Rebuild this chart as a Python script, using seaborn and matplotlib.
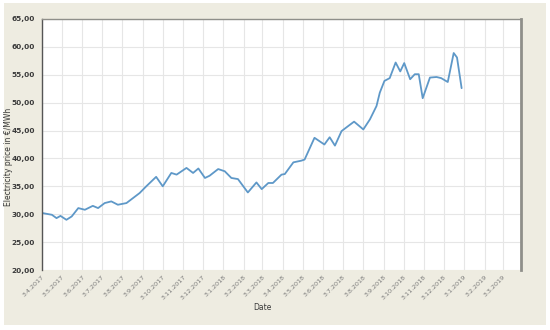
"""
plot.py
-------
Electricity price (EUR/MWh) over time, April 2017 - March 2019.
"""

import matplotlib
matplotlib.use("Agg")
import matplotlib.pyplot as plt
import matplotlib.patches as mpatches
import matplotlib.ticker as mticker
import pandas as pd
import seaborn as sns

# ── Data ────────────────────────────────────────────────────────────────────
dates = [
    "2017-04-04", "2017-04-18", "2017-04-25", "2017-05-01", "2017-05-10",
    "2017-05-18", "2017-05-28", "2017-06-07", "2017-06-19", "2017-06-27",
    "2017-07-07", "2017-07-17", "2017-07-27", "2017-08-09", "2017-08-19",
    "2017-08-29", "2017-09-08", "2017-09-23", "2017-10-03", "2017-10-16",
    "2017-10-24", "2017-11-08", "2017-11-18", "2017-11-26", "2017-12-06",
    "2017-12-13", "2017-12-26", "2018-01-05", "2018-01-15", "2018-01-25",
    "2018-02-09", "2018-02-22", "2018-03-02", "2018-03-12", "2018-03-19",
    "2018-04-01", "2018-04-06", "2018-04-19", "2018-05-01", "2018-05-06",
    "2018-05-21", "2018-06-05", "2018-06-13", "2018-06-21", "2018-07-01",
    "2018-07-11", "2018-07-20", "2018-08-03", "2018-08-13", "2018-08-23",
    "2018-08-28", "2018-09-04", "2018-09-12", "2018-09-21", "2018-09-28",
    "2018-10-04", "2018-10-13", "2018-10-20", "2018-10-26", "2018-11-01",
    "2018-11-12", "2018-11-22", "2018-11-29", "2018-12-09", "2018-12-18",
    "2018-12-23", "2018-12-30",
]
prices = [
    30.2, 29.9, 29.3, 29.7, 29.0,
    29.6, 31.1, 30.8, 31.5, 31.1,
    32.0, 32.3, 31.7, 32.0, 32.9,
    33.8, 35.0, 36.7, 35.0, 37.4,
    37.1, 38.3, 37.4, 38.2, 36.5,
    36.9, 38.1, 37.7, 36.5, 36.3,
    33.9, 35.7, 34.5, 35.6, 35.6,
    37.1, 37.2, 39.3, 39.6, 39.8,
    43.7, 42.5, 43.8, 42.3, 44.9,
    45.8, 46.6, 45.2, 47.0, 49.4,
    51.8, 53.9, 54.4, 57.2, 55.6,
    57.1, 54.2, 55.1, 55.1, 50.8,
    54.5, 54.6, 54.4, 53.7, 58.9,
    58.1, 52.6,
]
tick_dates = pd.date_range("2017-04-03", periods=24, freq=pd.DateOffset(months=1))
tick_labels = [f"{d.day}.{d.month}.{d.year}" for d in tick_dates]
y_ticks = [20, 25, 30, 35, 40, 45, 50, 55, 60, 65]

# ── Colours ──────────────────────────────────────────────────────────────────
PALETTE = {
    'line':   '#5e98c8',
    'panel':  '#eeece1',
    'grid':   '#e6e6e6',
    'frame':  '#8f8f8a',
    'text':   '#3a3a3a',
    'tick':   '#7a7a7a',
}

df = pd.DataFrame({'date': pd.to_datetime(dates), 'price': prices})

sns.set_style("whitegrid")
fig = plt.figure(figsize=(5.5, 3.3), dpi=100)
fig.patch.set_facecolor('white')
fig.patches.append(mpatches.Rectangle((4 / 550, 5 / 330), 542 / 550, 322 / 330,
                                      transform=fig.transFigure,
                                      facecolor=PALETTE['panel'],
                                      edgecolor='none', zorder=-10))

ax = fig.add_axes([42 / 550, 60 / 330, 479 / 550, 251 / 330])
sns.lineplot(data=df, x='date', y='price', ax=ax, color=PALETTE['line'],
             linewidth=1.3)

ax.set_xlim(pd.Timestamp("2017-04-03"), pd.Timestamp("2019-03-30"))
ax.set_ylim(20, 65)
ax.set_xticks(tick_dates)
ax.set_xticklabels(tick_labels, rotation=45, ha='right', rotation_mode='anchor',
                   fontsize=4.6, color=PALETTE['tick'])
ax.set_yticks(y_ticks)
ax.yaxis.set_major_formatter(mticker.FuncFormatter(lambda v, _: f"{v:.2f}".replace('.', ',')))
ax.tick_params(axis='x', length=0, pad=3)
ax.tick_params(axis='y', length=0, pad=5, labelsize=5.3, labelcolor=PALETTE['text'])
for lbl in ax.get_yticklabels():
    lbl.set_fontweight('bold')

ax.grid(True, color=PALETTE['grid'], linewidth=0.8)
ax.set_facecolor('white')
ax.spines['bottom'].set_visible(False)
ax.spines['left'].set_color('#555555')
ax.spines['left'].set_linewidth(1.0)
ax.spines['top'].set_color(PALETTE['frame'])
ax.spines['top'].set_linewidth(1.0)
ax.spines['right'].set_color(PALETTE['frame'])
ax.spines['right'].set_linewidth(2.0)

ax.set_xlabel('')
ax.set_ylabel('Electricity price in €/MWh', fontsize=5.5, color=PALETTE['text'])
ax.yaxis.set_label_coords(-29 / 479, 0.45)
fig.text(262 / 550, 1 - 308 / 330, 'Date', fontsize=5.5, color=PALETTE['text'],
         ha='center', va='center')

fig.savefig('out.png', dpi=100, facecolor=fig.get_facecolor())
